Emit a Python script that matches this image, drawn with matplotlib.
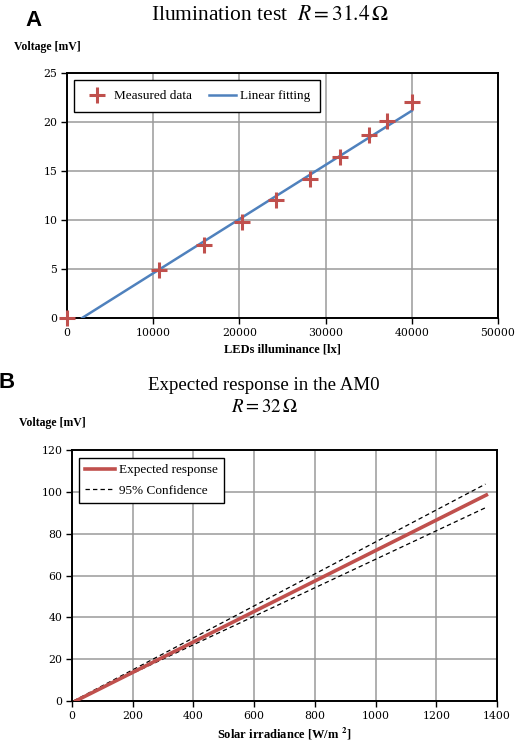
import matplotlib
matplotlib.use("Agg")
import matplotlib.pyplot as plt

# ---- Panel A data ----
lux_measured = [0, 10700, 15900, 20300, 24200, 28200, 31700, 35000, 37100, 40000]
mv_measured = [0.0, 4.9, 7.5, 9.8, 12.0, 14.2, 16.4, 18.7, 20.1, 22.05]
lux_fit = [1750, 40000]
mv_fit = [0.0, 21.15]
a_xticks = [0, 10000, 20000, 30000, 40000, 50000]
a_yticks = [0, 5, 10, 15, 20, 25]

# ---- Panel B data ----
irr = [12, 1365]
expected = [0.0, 98.5]
irr_conf = [5, 1362]
conf_upper = [0.0, 103.7]
conf_lower = [0.0, 92.4]
b_xticks = [0, 200, 400, 600, 800, 1000, 1200, 1400]
b_yticks = [0, 20, 40, 60, 80, 100, 120]

RED = "#C0504D"
BLUE = "#4F81BD"
GRID = "#9a9a9a"
SERIF = ["Liberation Serif", "DejaVu Serif"]

plt.rcParams["font.family"] = SERIF
plt.rcParams["mathtext.fontset"] = "stix"

fig = plt.figure(figsize=(5.31, 7.46), dpi=100)
W, H = 531, 746

def ax_at(l, t, r, b):
    return fig.add_axes([l / W, 1 - b / H, (r - l) / W, (b - t) / H])

def style(ax):
    ax.grid(True, color=GRID, linewidth=1.1)
    ax.set_axisbelow(True)
    for s in ax.spines.values():
        s.set_linewidth(1.4)
        s.set_color("black")
    ax.tick_params(direction="out", length=4, width=1, labelsize=7.8, pad=3)
    for lab in ax.get_xticklabels() + ax.get_yticklabels():
        lab.set_family(["DejaVu Serif"])

# Panel A
axA = ax_at(67, 73, 498, 318)
axA.plot(lux_fit, mv_fit, color=BLUE, linewidth=1.8, label="Linear fitting", zorder=3)
axA.plot(lux_measured, mv_measured, linestyle="none", marker="+", markersize=12,
         markeredgewidth=2.2, color=RED, label="Measured data", zorder=4, clip_on=False)
axA.set_xlim(0, 50000)
axA.set_ylim(0, 25)
axA.set_xticks(a_xticks)
axA.set_yticks(a_yticks)
style(axA)
axA.set_xlabel("LEDs illuminance [lx]", fontweight="bold", fontsize=9, labelpad=4)
h, l = axA.get_legend_handles_labels()
legA = axA.legend([h[1], h[0]], [l[1], l[0]], ncol=2, loc="upper left",
                  bbox_to_anchor=((74 - 67) / 431, (318 - 80) / 245), borderaxespad=0,
                  fancybox=False, edgecolor="black",
                  framealpha=1, fontsize=9.5, handlelength=2.0, borderpad=0.75,
                  columnspacing=1.3, handletextpad=0.3)
legA.get_frame().set_linewidth(1.0)

fig.text(33 / W, 1 - 20 / H, "A", fontsize=16, fontweight="bold",
         family=["Liberation Sans", "DejaVu Sans"], ha="center", va="center")
fig.text(270 / W, 1 - 16 / H, r"Ilumination test  $R = 31.4\,\Omega$", fontsize=15.5,
         ha="center", va="center")
fig.text(47 / W, 1 - 47 / H, "Voltage [mV]", fontsize=8.5, fontweight="bold",
         ha="center", va="center")

# Panel B
axB = ax_at(72, 450, 497, 701)
axB.plot(irr, expected, color=RED, linewidth=2.6, label="Expected response", zorder=4)
axB.plot(irr_conf, conf_upper, color="black", linestyle=(0, (3.5, 2.5)), linewidth=0.9,
         label="95% Confidence", zorder=3)
axB.plot(irr_conf, conf_lower, color="black", linestyle=(0, (3.5, 2.5)), linewidth=0.9, zorder=3)
axB.set_xlim(0, 1400)
axB.set_ylim(0, 120)
axB.set_xticks(b_xticks)
axB.set_yticks(b_yticks)
style(axB)
axB.set_xlabel(r"Solar irradiance [W/m $^{\mathbf{2}}$]", fontweight="bold", fontsize=9, labelpad=4)
legB = axB.legend(loc="upper left", bbox_to_anchor=((79 - 72) / 425, (701 - 458) / 251),
                  borderaxespad=0, fancybox=False,
                  edgecolor="black", framealpha=1, fontsize=9.5, handlelength=2.3,
                  borderpad=0.45, handletextpad=0.3, labelspacing=0.65)
legB.get_frame().set_linewidth(1.0)

fig.text(7 / W, 1 - 383 / H, "B", fontsize=16, fontweight="bold",
         family=["Liberation Sans", "DejaVu Sans"], ha="center", va="center")
fig.text(264 / W, 1 - 386 / H, "Expected response in the AM0", fontsize=13.6,
         ha="center", va="center")
fig.text(264 / W, 1 - 407 / H, r"$R = 32\,\Omega$", fontsize=13.6,
         ha="center", va="center")
fig.text(52 / W, 1 - 423 / H, "Voltage [mV]", fontsize=8.5, fontweight="bold",
         ha="center", va="center")

fig.savefig("out.png", dpi=100)
